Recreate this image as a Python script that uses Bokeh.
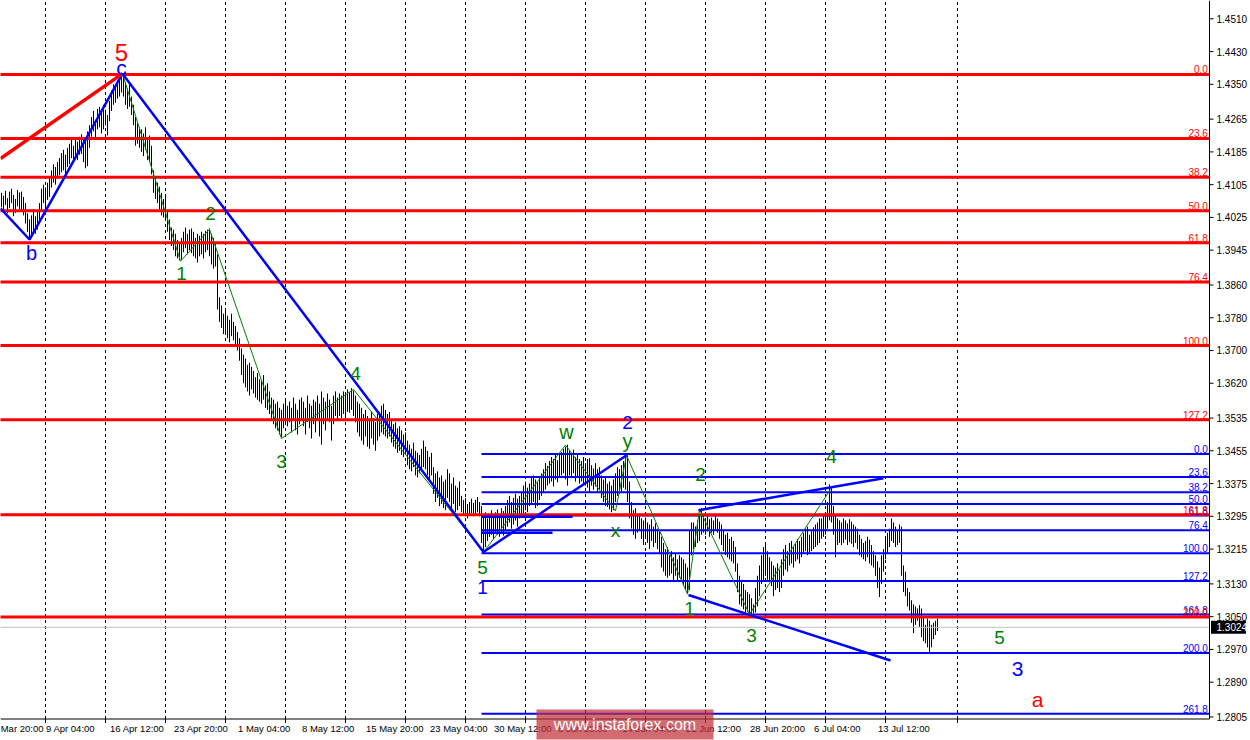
from bokeh.plotting import figure
from bokeh.models import Range1d
from bokeh.embed import file_html
from bokeh.resources import INLINE
from bokeh.core.properties import value

# ---------------- data (GBP/USD, H4 bars) ----------------
HIGH = [
    1.4085, 1.4078, 1.4090, 1.4072, 1.4088, 1.4095, 1.4080, 1.4070, 1.4092, 1.4086,
    1.4088, 1.4075, 1.4060, 1.4035, 1.4020, 1.4030, 1.4045, 1.4028, 1.4040, 1.4060,
    1.4095, 1.4105, 1.4098, 1.4110, 1.4125, 1.4140, 1.4155, 1.4148, 1.4160, 1.4170,
    1.4182, 1.4190, 1.4178, 1.4195, 1.4205, 1.4215, 1.4200, 1.4218, 1.4210, 1.4222,
    1.4228, 1.4215, 1.4220, 1.4235, 1.4250, 1.4270, 1.4285, 1.4262, 1.4290, 1.4295,
    1.4280, 1.4300, 1.4288, 1.4275, 1.4310, 1.4335, 1.4350, 1.4345, 1.4360, 1.4368,
    1.4377, 1.4370, 1.4355, 1.4340, 1.4350, 1.4320, 1.4300, 1.4270, 1.4255, 1.4245,
    1.4240, 1.4230, 1.4245, 1.4215, 1.4225, 1.4200, 1.4140, 1.4125, 1.4110, 1.4100,
    1.4085, 1.4070, 1.4080, 1.4040, 1.4020, 1.4000, 1.3995, 1.3985, 1.3970, 1.3960,
    1.3975, 1.3990, 1.4000, 1.3985, 1.3995, 1.3998, 1.3990, 1.3975, 1.3985, 1.3980,
    1.3990, 1.3985, 1.3992, 1.3995, 1.3998, 1.3985, 1.3975, 1.3965, 1.3935, 1.3830,
    1.3810, 1.3790, 1.3800, 1.3785, 1.3775, 1.3790, 1.3770, 1.3760, 1.3745, 1.3730,
    1.3705, 1.3690, 1.3680, 1.3665, 1.3670, 1.3660, 1.3650, 1.3635, 1.3645, 1.3630,
    1.3625, 1.3640, 1.3615, 1.3620, 1.3600, 1.3585, 1.3580, 1.3570, 1.3575, 1.3560,
    1.3555, 1.3570, 1.3580, 1.3565, 1.3575, 1.3560, 1.3585, 1.3570, 1.3555, 1.3580,
    1.3585, 1.3575, 1.3560, 1.3590, 1.3570, 1.3565, 1.3580, 1.3575, 1.3590, 1.3570,
    1.3600, 1.3585, 1.3575, 1.3595, 1.3580, 1.3565, 1.3590, 1.3600, 1.3585, 1.3595,
    1.3590, 1.3600, 1.3595, 1.3605, 1.3598, 1.3608, 1.3602, 1.3590, 1.3575, 1.3570,
    1.3560, 1.3545, 1.3555, 1.3540, 1.3530, 1.3550, 1.3535, 1.3525, 1.3545, 1.3550,
    1.3565, 1.3570, 1.3555, 1.3545, 1.3550, 1.3530, 1.3520, 1.3525, 1.3510, 1.3515,
    1.3505, 1.3495, 1.3500, 1.3480, 1.3470, 1.3460, 1.3475, 1.3455, 1.3450, 1.3445,
    1.3460, 1.3480, 1.3465, 1.3455, 1.3440, 1.3450, 1.3415, 1.3400, 1.3405, 1.3390,
    1.3395, 1.3380, 1.3385, 1.3410, 1.3400, 1.3375, 1.3390, 1.3370, 1.3365, 1.3380,
    1.3345, 1.3335, 1.3340, 1.3325, 1.3330, 1.3338, 1.3328, 1.3335, 1.3342, 1.3330,
    1.3320, 1.3300, 1.3305, 1.3290, 1.3300, 1.3310, 1.3295, 1.3305, 1.3312, 1.3300,
    1.3315, 1.3308, 1.3320, 1.3335, 1.3345, 1.3330, 1.3340, 1.3350, 1.3338, 1.3345,
    1.3355, 1.3370, 1.3380, 1.3365, 1.3375, 1.3390, 1.3395, 1.3385, 1.3378, 1.3392,
    1.3400, 1.3410, 1.3425, 1.3418, 1.3430, 1.3440, 1.3435, 1.3445, 1.3432, 1.3448,
    1.3452, 1.3460, 1.3465, 1.3470, 1.3455, 1.3445, 1.3458, 1.3440, 1.3448, 1.3435,
    1.3430, 1.3440, 1.3425, 1.3435, 1.3437, 1.3420, 1.3412, 1.3425, 1.3410, 1.3415,
    1.3395, 1.3385, 1.3390, 1.3375, 1.3380, 1.3370, 1.3385, 1.3400, 1.3415, 1.3410,
    1.3420, 1.3430, 1.3440, 1.3444, 1.3380, 1.3330, 1.3310, 1.3315, 1.3300, 1.3295,
    1.3290, 1.3285, 1.3292, 1.3280, 1.3275, 1.3288, 1.3270, 1.3278, 1.3265, 1.3260,
    1.3245, 1.3230, 1.3215, 1.3220, 1.3200, 1.3210, 1.3195, 1.3205, 1.3190, 1.3200,
    1.3195, 1.3190, 1.3180, 1.3170, 1.3260, 1.3280, 1.3280, 1.3270, 1.3285, 1.3300,
    1.3315, 1.3300, 1.3290, 1.3295, 1.3288, 1.3292, 1.3285, 1.3295, 1.3290, 1.3282,
    1.3275, 1.3260, 1.3250, 1.3255, 1.3240, 1.3245, 1.3235, 1.3220, 1.3180, 1.3150,
    1.3140, 1.3130, 1.3115, 1.3110, 1.3105, 1.3095, 1.3080, 1.3120, 1.3150, 1.3175,
    1.3200, 1.3220, 1.3225, 1.3210, 1.3195, 1.3185, 1.3175, 1.3170, 1.3180, 1.3165,
    1.3190, 1.3215, 1.3225, 1.3210, 1.3230, 1.3235, 1.3220, 1.3228, 1.3240, 1.3235,
    1.3245, 1.3255, 1.3265, 1.3270, 1.3250, 1.3260, 1.3268, 1.3275, 1.3280, 1.3290,
    1.3290, 1.3295, 1.3300, 1.3330, 1.3373, 1.3365, 1.3320, 1.3300, 1.3290, 1.3285,
    1.3280, 1.3290, 1.3285, 1.3278, 1.3288, 1.3282, 1.3275, 1.3270, 1.3265, 1.3250,
    1.3240, 1.3230, 1.3235, 1.3245, 1.3238, 1.3225, 1.3210, 1.3200, 1.3185, 1.3170,
    1.3200, 1.3215, 1.3240, 1.3255, 1.3265, 1.3290, 1.3280, 1.3270, 1.3262, 1.3275,
    1.3270, 1.3175, 1.3160, 1.3120, 1.3110, 1.3090, 1.3080, 1.3075, 1.3070, 1.3078,
    1.3070, 1.3050, 1.3030, 1.3045, 1.3040, 1.3030, 1.3035, 1.3040, 1.3045,
]
LOW = [
    1.4050, 1.4040, 1.4055, 1.4035, 1.4048, 1.4060, 1.4028, 1.4036, 1.4052, 1.4045,
    1.4042, 1.4030, 1.4010, 1.3990, 1.3970, 1.3982, 1.3990, 1.3985, 1.3995, 1.4015,
    1.4040, 1.4060, 1.4050, 1.4068, 1.4075, 1.4098, 1.4110, 1.4105, 1.4120, 1.4128,
    1.4135, 1.4140, 1.4130, 1.4148, 1.4155, 1.4170, 1.4160, 1.4172, 1.4165, 1.4178,
    1.4180, 1.4160, 1.4145, 1.4150, 1.4195, 1.4222, 1.4235, 1.4218, 1.4240, 1.4245,
    1.4230, 1.4240, 1.4250, 1.4225, 1.4260, 1.4285, 1.4300, 1.4305, 1.4315, 1.4320,
    1.4330, 1.4320, 1.4300, 1.4290, 1.4295, 1.4275, 1.4250, 1.4200, 1.4205, 1.4195,
    1.4185, 1.4175, 1.4190, 1.4165, 1.4160, 1.4130, 1.4085, 1.4070, 1.4060, 1.4045,
    1.4030, 1.4025, 1.4020, 1.3990, 1.3970, 1.3955, 1.3945, 1.3930, 1.3925, 1.3920,
    1.3922, 1.3940, 1.3950, 1.3935, 1.3945, 1.3938, 1.3930, 1.3925, 1.3915, 1.3930,
    1.3935, 1.3925, 1.3940, 1.3945, 1.3930, 1.3910, 1.3900, 1.3905, 1.3800, 1.3770,
    1.3755, 1.3740, 1.3745, 1.3730, 1.3720, 1.3735, 1.3725, 1.3715, 1.3700, 1.3675,
    1.3640, 1.3620, 1.3610, 1.3600, 1.3590, 1.3605, 1.3595, 1.3585, 1.3580, 1.3575,
    1.3570, 1.3580, 1.3560, 1.3555, 1.3545, 1.3530, 1.3520, 1.3510, 1.3505, 1.3495,
    1.3488, 1.3510, 1.3520, 1.3515, 1.3525, 1.3500, 1.3530, 1.3505, 1.3495, 1.3520,
    1.3530, 1.3515, 1.3495, 1.3525, 1.3510, 1.3485, 1.3520, 1.3500, 1.3530, 1.3490,
    1.3470, 1.3520, 1.3505, 1.3530, 1.3525, 1.3480, 1.3520, 1.3540, 1.3530, 1.3540,
    1.3535, 1.3545, 1.3540, 1.3550, 1.3548, 1.3555, 1.3540, 1.3525, 1.3500, 1.3490,
    1.3480, 1.3470, 1.3490, 1.3465, 1.3460, 1.3485, 1.3470, 1.3455, 1.3480, 1.3490,
    1.3500, 1.3495, 1.3490, 1.3485, 1.3490, 1.3475, 1.3465, 1.3460, 1.3450, 1.3455,
    1.3445, 1.3440, 1.3450, 1.3420, 1.3410, 1.3405, 1.3415, 1.3395, 1.3390, 1.3400,
    1.3405, 1.3415, 1.3410, 1.3395, 1.3385, 1.3395, 1.3350, 1.3330, 1.3340, 1.3320,
    1.3325, 1.3315, 1.3310, 1.3340, 1.3330, 1.3315, 1.3325, 1.3305, 1.3310, 1.3320,
    1.3305, 1.3300, 1.3295, 1.3290, 1.3300, 1.3302, 1.3295, 1.3298, 1.3305, 1.3295,
    1.3230, 1.3208, 1.3220, 1.3235, 1.3245, 1.3250, 1.3240, 1.3255, 1.3250, 1.3245,
    1.3255, 1.3248, 1.3260, 1.3270, 1.3280, 1.3265, 1.3275, 1.3285, 1.3270, 1.3290,
    1.3295, 1.3300, 1.3310, 1.3305, 1.3320, 1.3325, 1.3330, 1.3315, 1.3320, 1.3335,
    1.3345, 1.3355, 1.3360, 1.3370, 1.3375, 1.3380, 1.3368, 1.3385, 1.3378, 1.3390,
    1.3395, 1.3400, 1.3385, 1.3370, 1.3395, 1.3390, 1.3400, 1.3380, 1.3392, 1.3375,
    1.3380, 1.3375, 1.3370, 1.3365, 1.3352, 1.3370, 1.3360, 1.3368, 1.3355, 1.3360,
    1.3340, 1.3330, 1.3320, 1.3318, 1.3312, 1.3305, 1.3310, 1.3330, 1.3345, 1.3350,
    1.3355, 1.3365, 1.3360, 1.3330, 1.3290, 1.3265, 1.3250, 1.3240, 1.3255, 1.3260,
    1.3240, 1.3225, 1.3245, 1.3230, 1.3215, 1.3235, 1.3220, 1.3230, 1.3215, 1.3205,
    1.3170, 1.3160, 1.3150, 1.3145, 1.3150, 1.3155, 1.3140, 1.3150, 1.3135, 1.3145,
    1.3140, 1.3125, 1.3115, 1.3106, 1.3115, 1.3200, 1.3215, 1.3220, 1.3230, 1.3235,
    1.3250, 1.3255, 1.3250, 1.3258, 1.3245, 1.3255, 1.3250, 1.3262, 1.3255, 1.3240,
    1.3225, 1.3210, 1.3200, 1.3195, 1.3190, 1.3185, 1.3180, 1.3160, 1.3110, 1.3080,
    1.3075, 1.3068, 1.3060, 1.3062, 1.3055, 1.3052, 1.3058, 1.3060, 1.3075, 1.3100,
    1.3130, 1.3140, 1.3150, 1.3140, 1.3135, 1.3125, 1.3100, 1.3115, 1.3120, 1.3110,
    1.3120, 1.3150, 1.3165, 1.3160, 1.3175, 1.3180, 1.3170, 1.3185, 1.3190, 1.3180,
    1.3195, 1.3205, 1.3210, 1.3200, 1.3205, 1.3210, 1.3215, 1.3220, 1.3225, 1.3230,
    1.3240, 1.3245, 1.3250, 1.3265, 1.3285, 1.3280, 1.3250, 1.3195, 1.3225, 1.3230,
    1.3225, 1.3230, 1.3238, 1.3225, 1.3232, 1.3228, 1.3220, 1.3230, 1.3215, 1.3200,
    1.3195, 1.3190, 1.3185, 1.3195, 1.3180, 1.3175, 1.3170, 1.3150, 1.3120, 1.3098,
    1.3130, 1.3160, 1.3190, 1.3205, 1.3220, 1.3235, 1.3230, 1.3220, 1.3225, 1.3230,
    1.3150, 1.3110, 1.3100, 1.3075, 1.3065, 1.3035, 1.3010, 1.3030, 1.3040, 1.3025,
    1.3000, 1.2990, 1.2985, 1.2975, 1.2960, 1.2975, 1.2995, 1.3005, 1.3015,
]
LAST_PRICE = 1.3024
LAST_PRICE_TEXT = "1.3024"

Y_TICKS = [1.4510, 1.4430, 1.4350, 1.4265, 1.4185, 1.4105, 1.4025, 1.3945, 1.3860, 1.3780,
           1.3700, 1.3620, 1.3535, 1.3455, 1.3375, 1.3295, 1.3215, 1.3130, 1.3050, 1.2970,
           1.2890, 1.2805]
# the first time label is cut by the window edge in the reference ("30 Mar 20:00")
X_LABELS = ["Mar 20:00", "9 Apr 04:00", "16 Apr 12:00", "23 Apr 20:00", "1 May 04:00",
            "8 May 12:00", "15 May 20:00", "23 May 04:00", "30 May 12:00", "6 Jun 20:00",
            "14 Jun 04:00", "21 Jun 12:00", "28 Jun 20:00", "6 Jul 04:00", "13 Jul 12:00"]
X_LABEL_BARS = [-0.4, 22.25, 54.25, 86.25, 118.25, 150.25, 182.25, 214.25, 246.25,
                278.25, 310.25, 342.25, 374.25, 406.25, 438.25]
GRID_BARS = [22, 52, 82, 112, 142, 172, 202, 232, 262, 292, 322, 352, 382, 412, 442, 478]

RED_FIB_LEVELS = ["0.0", "23.6", "38.2", "50.0", "61.8", "76.4", "100.0", "127.2", "161.8", "200.0"]
RED_FIB_PRICES = [1.4374, 1.4218, 1.4123, 1.4041, 1.3963, 1.3867, 1.3712, 1.3531, 1.3299, 1.3049]
BLUE_FIB_LEVELS = ["0.0", "23.6", "38.2", "50.0", "61.8", "76.4", "100.0", "127.2", "161.8", "200.0", "261.8"]
BLUE_FIB_PRICES = [1.3447, 1.3391, 1.3354, 1.3325, 1.3297, 1.3261, 1.3205, 1.3137, 1.3055, 1.2961, 1.2813]
BLUE_FIB_START = 240

RED_WAVE_X = [-0.5, 60.5]
RED_WAVE_Y = [1.4169, 1.4376]
BLUE_WAVE_X = [-0.5, 14, 60.5, 241, 312.5]
BLUE_WAVE_Y = [1.4047, 1.3971, 1.4376, 1.3208, 1.3444]
GREEN_WAVE_X = [60.5, 89.5, 104, 140, 176, 241, 282, 307, 312.5, 343, 349, 374, 414.5]
GREEN_WAVE_Y = [1.4376, 1.3918, 1.3996, 1.3485, 1.3605, 1.3208, 1.3469, 1.3308, 1.3444,
                1.3105, 1.3312, 1.3056, 1.3361]
BLUE_TREND_XS = [[343.5, 444.5], [348.5, 441], [240, 285.5], [240, 275.5]]
BLUE_TREND_YS = [[1.3103, 1.2943], [1.3310, 1.3388], [1.3294, 1.3294], [1.3255, 1.3255]]

WAVE_TEXT = ["5", "c", "b", "1", "2", "3", "4", "5", "1", "w", "x", "y", "2",
             "1", "2", "3", "4", "5", "3", "a"]
WAVE_X = [60, 60, 15, 90, 104.5, 140, 177, 240.5, 240.5, 282.5, 307, 313, 313,
          344, 349.5, 375, 415, 499, 508, 518]
WAVE_Y = [1.4428, 1.4391, 1.3937, 1.3888, 1.4035, 1.3429, 1.3644, 1.3170, 1.3121, 1.3500,
          1.3260, 1.3480, 1.3524, 1.3071, 1.3396, 1.3003, 1.3442, 1.2998, 1.2921, 1.2848]
WAVE_COLOR = ["#ff0000", "#0000ff", "#0000ff", "#008000", "#008000", "#008000", "#008000",
              "#008000", "#0000ff", "#008000", "#008000", "#008000", "#0000ff",
              "#008000", "#008000", "#008000", "#008000", "#008000", "#0000ff", "#ff0000"]
WAVE_SIZE = ["24px", "21px", "20px", "19px", "19px", "19px", "19px", "19px", "19px", "20px",
             "19px", "20px", "19px", "19px", "19px", "19px", "19px", "19px", "21px", "21px"]

WATERMARK = "www.instaforex.com"
FONT = "Liberation Sans"

# chart geometry (data units): bar index on x, price on y
X_RANGE = (-0.5, 624.5)
Y_RANGE = (1.27476, 1.45547)
SCALE_X = 604          # bar position of the price scale line
SCALE_Y = 1.28001      # price level of the time scale line
TICK_DY = 0.00098      # length of a time-scale tick, in price units

p = figure(width=1250, height=740, x_range=Range1d(*X_RANGE), y_range=Range1d(*Y_RANGE),
           x_axis_location=None, y_axis_location=None, toolbar_location=None,
           output_backend="svg", min_border=0, outline_line_color=None,
           background_fill_color="white", border_fill_color="white")
p.xgrid.visible = False
p.ygrid.visible = False

n_grid = len(GRID_BARS)
# vertical dashed grid
p.segment(x0=GRID_BARS, x1=GRID_BARS, y0=[SCALE_Y] * n_grid, y1=[Y_RANGE[1]] * n_grid,
          line_color="black", line_width=1, line_dash="3 3")

# price bars
idx = list(range(len(HIGH)))
p.segment(x0=idx, y0=LOW, x1=idx, y1=HIGH, line_color="black", line_width=1)

# current price line
p.segment(x0=[-1], x1=[SCALE_X], y0=[LAST_PRICE], y1=[LAST_PRICE], line_color="#c0c0c0", line_width=1)

# fibonacci levels
nb = len(BLUE_FIB_PRICES)
nr = len(RED_FIB_PRICES)
p.segment(x0=[BLUE_FIB_START] * nb, x1=[SCALE_X - 0.25] * nb, y0=BLUE_FIB_PRICES, y1=BLUE_FIB_PRICES,
          line_color="#0000ff", line_width=2)
p.segment(x0=[-1] * nr, x1=[SCALE_X - 0.25] * nr, y0=RED_FIB_PRICES, y1=RED_FIB_PRICES,
          line_color="#ff0000", line_width=3)

# wave lines
p.line(GREEN_WAVE_X, GREEN_WAVE_Y, line_color="#008000", line_width=1)
p.multi_line(BLUE_TREND_XS, BLUE_TREND_YS, line_color="#0000ff", line_width=2.5)
p.line(BLUE_WAVE_X, BLUE_WAVE_Y, line_color="#0000ff", line_width=2.5)
p.line(RED_WAVE_X, RED_WAVE_Y, line_color="#ff0000", line_width=3.5)

# fibo level texts
p.text(x=[SCALE_X - 0.8] * nb, y=BLUE_FIB_PRICES, text=BLUE_FIB_LEVELS,
       text_align="right", text_baseline="bottom", y_offset=-1,
       text_font=value(FONT), text_font_size="10px", text_color="#0000ff")
p.text(x=[SCALE_X - 0.8] * nr, y=RED_FIB_PRICES, text=RED_FIB_LEVELS,
       text_align="right", text_baseline="bottom", y_offset=-1,
       text_font=value(FONT), text_font_size="10px", text_color="#ff0000")

# wave labels
p.text(x=WAVE_X, y=WAVE_Y, text=WAVE_TEXT, text_color=WAVE_COLOR, text_font_size=WAVE_SIZE,
       text_font=value(FONT), text_align="center", text_baseline="middle")

# ---------------- price scale (right) ----------------
ny = len(Y_TICKS)
p.segment(x0=[SCALE_X], x1=[SCALE_X], y0=[SCALE_Y], y1=[Y_RANGE[1]], line_color="black", line_width=1)
p.segment(x0=[SCALE_X] * ny, x1=[SCALE_X + 2] * ny, y0=Y_TICKS, y1=Y_TICKS,
          line_color="black", line_width=1)
p.text(x=[SCALE_X + 2] * ny, y=Y_TICKS, text=[f"{t:.4f}" for t in Y_TICKS], x_offset=3,
       text_align="left", text_baseline="middle", text_font=value(FONT),
       text_font_size="10px", text_color="black")

# ---------------- time scale (bottom) ----------------
p.segment(x0=[X_RANGE[0]], x1=[SCALE_X], y0=[SCALE_Y], y1=[SCALE_Y], line_color="black", line_width=1)
p.segment(x0=GRID_BARS, x1=GRID_BARS, y0=[SCALE_Y] * n_grid, y1=[SCALE_Y - TICK_DY] * n_grid,
          line_color="black", line_width=1)
p.text(x=X_LABEL_BARS, y=[SCALE_Y] * len(X_LABELS), text=X_LABELS, y_offset=4,
       text_align="left", text_baseline="top", text_font=value(FONT),
       text_font_size="9.5px", text_color="black")

# current price box on the price scale
p.rect(x=[SCALE_X + 9.5], y=[LAST_PRICE], width=35, height=13, width_units="screen",
       height_units="screen", fill_color="black", line_color=None)
p.text(x=[SCALE_X + 2], y=[LAST_PRICE], text=[LAST_PRICE_TEXT], x_offset=3,
       text_align="left", text_baseline="middle", text_font=value(FONT),
       text_font_size="10px", text_color="white")

# watermark
p.rect(x=[311.75], y=[1.27867], width=177, height=30, width_units="screen",
       height_units="screen", fill_color="#c0303a", fill_alpha=0.72, line_color=None)
p.text(x=[311.75], y=[1.27867], text=[WATERMARK], text_align="center", text_baseline="middle",
       text_font=value(FONT), text_font_size="16px", text_color="white")

open("out.html", "w").write(file_html(p, INLINE))
